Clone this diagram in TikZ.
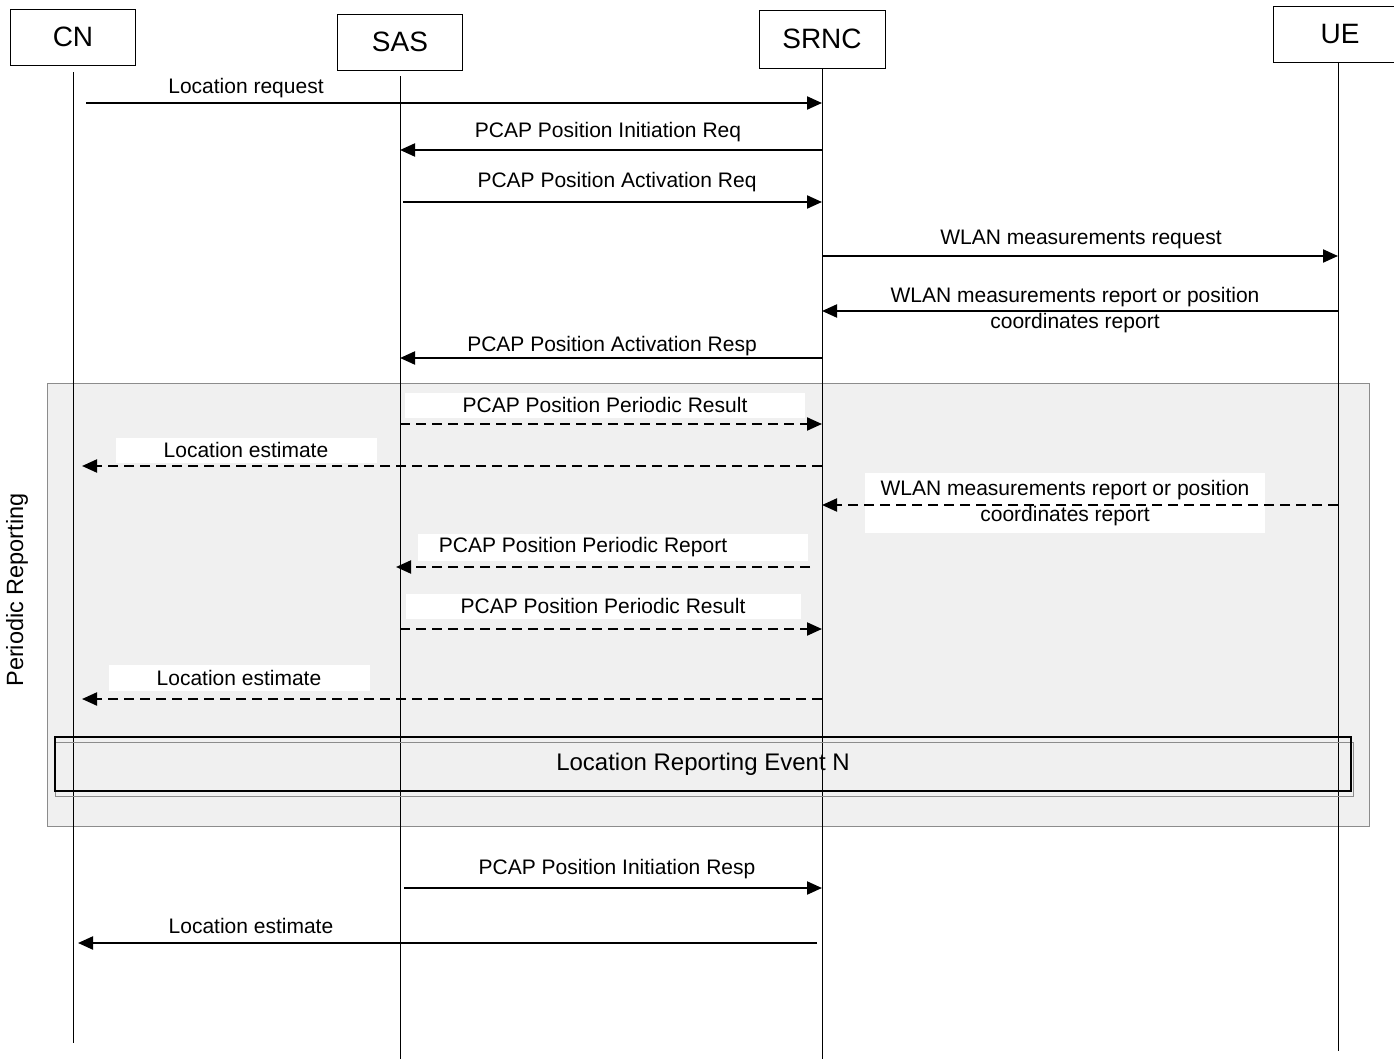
\documentclass[tikz,border=0pt]{standalone}
\usepackage{fontspec}
\setmainfont{Liberation Sans}
\usetikzlibrary{arrows.meta}
\definecolor{shade}{RGB}{240,240,240}
\definecolor{frame}{RGB}{140,140,140}
\begin{document}
\begin{tikzpicture}[x=1pt,y=-1pt,
  hdr/.style={draw,line width=0.9pt,minimum width=125pt,minimum height=56pt,inner sep=0pt,font=\fontsize{28}{32}\selectfont},
  life/.style={line width=0.9pt},
  msg/.style={line width=2.1pt,-{Triangle[length=15pt,width=13pt]}},
  dmsg/.style={msg,dash pattern=on 10pt off 6pt},
  lbl/.style={inner sep=0pt,font=\fontsize{21}{26}\selectfont,align=center},
  wlbl/.style={lbl,fill=white}]
\useasboundingbox (0,0) rectangle (1394,1059);
% shaded periodic region
\draw[frame,fill=shade,line width=0.8pt] (47,383) rectangle (1369,826);
\node[rotate=90,font=\fontsize{23.5}{27}\selectfont] (prd) at (17,590) {Periodic Reporting};
% headers
\node[hdr] (cn) at (73,37) {CN};
\node[hdr] (sas) at (400,42) {SAS};
\node[hdr,minimum width=126pt,minimum height=58pt] (srnc) at (822,39) {SRNC};
\node[hdr,minimum width=124pt] (ue) at (1335,34) {};
\node[font=\fontsize{28}{32}\selectfont] (uet) at (1340,34) {UE};
% lifeline ends
\coordinate (cne) at (73,1043);
\coordinate (sase) at (400,1059);
\coordinate (srnce) at (822,1059);
\coordinate (uee) at (1338,1051);
\draw[life] ([yshift=-7pt]cn.south) -- (cne);
\draw[life] ([yshift=-6pt]sas.south) -- (sase);
\draw[life] (srnc.south) -- (srnce);
\draw[life] (1338,62) coordinate (ues) -- (uee);
% event box
\draw[frame,line width=0.8pt] (55,742) rectangle (1353,796);
\node[draw,line width=1.6pt,minimum width=1296pt,minimum height=54pt,inner sep=0pt,font=\fontsize{24}{28}\selectfont] (evt) at (703,764) {Location Reporting Event N};
% messages
\node[lbl] (l1) at (246,88) {Location request};
\draw[msg] ([xshift=13pt]cn |- 0,103) -- (srnc |- 0,103);
\node[lbl] (l2) at (608,132) {PCAP Position Initiation Req};
\draw[msg] (srnc |- 0,150) -- (sas |- 0,150);
\node[lbl] (l3) at (617,182) {PCAP Position Activation Req};
\draw[msg] ([xshift=3pt]sas |- 0,202) -- (srnc |- 0,202);
\node[lbl] (l4) at (1081,239) {WLAN measurements request};
\draw[msg] (srnc |- 0,256) -- (1338,256);
\node[lbl] (l5) at (1075,310) {WLAN measurements report or position\\coordinates report};
\draw[msg] (1338,311) -- (srnc |- 0,311);
\node[lbl] (l6) at (612,346) {PCAP Position Activation Resp};
\draw[msg] (srnc |- 0,358) -- (sas |- 0,358);
% periodic
\node[wlbl,minimum width=400pt,minimum height=25pt] (p1) at (605,405) {PCAP Position Periodic Result};
\draw[dmsg] (sas |- 0,424) -- (srnc |- 0,424);
\node[wlbl,minimum width=261pt,minimum height=25pt] (p2) at (246,450) {Location estimate};
\draw[dmsg] (srnc |- 0,466) -- ([xshift=9pt]cn |- 0,466);
\node[wlbl,minimum width=400pt,minimum height=60pt] (p3) at (1065,503) {WLAN measurements report or position\\coordinates report};
\draw[dmsg] (1338,505) -- (srnc |- 0,505);
\node[wlbl,minimum width=390pt,minimum height=27pt] (p4) at (613,547) {\hspace*{-60pt}PCAP Position Periodic Report};
\draw[dmsg] ([xshift=-12pt]srnc |- 0,567) -- ([xshift=-4pt]sas |- 0,567);
\node[wlbl,minimum width=395pt,minimum height=25pt] (p5) at (603,606) {PCAP Position Periodic Result};
\draw[dmsg] (sas |- 0,629) -- (srnc |- 0,629);
\node[wlbl,minimum width=261pt,minimum height=26pt] (p6) at (239,678) {Location estimate};
\draw[dmsg] (srnc |- 0,699) -- ([xshift=9pt]cn |- 0,699);
% after
\node[lbl] (a1) at (617,869) {PCAP Position Initiation Resp};
\draw[msg] ([xshift=4pt]sas |- 0,888) -- (srnc |- 0,888);
\node[lbl] (a2) at (251,926) {Location estimate};
\draw[msg] ([xshift=-5pt]srnc |- 0,943) -- ([xshift=5pt]cn |- 0,943);
\end{tikzpicture}
\end{document}
